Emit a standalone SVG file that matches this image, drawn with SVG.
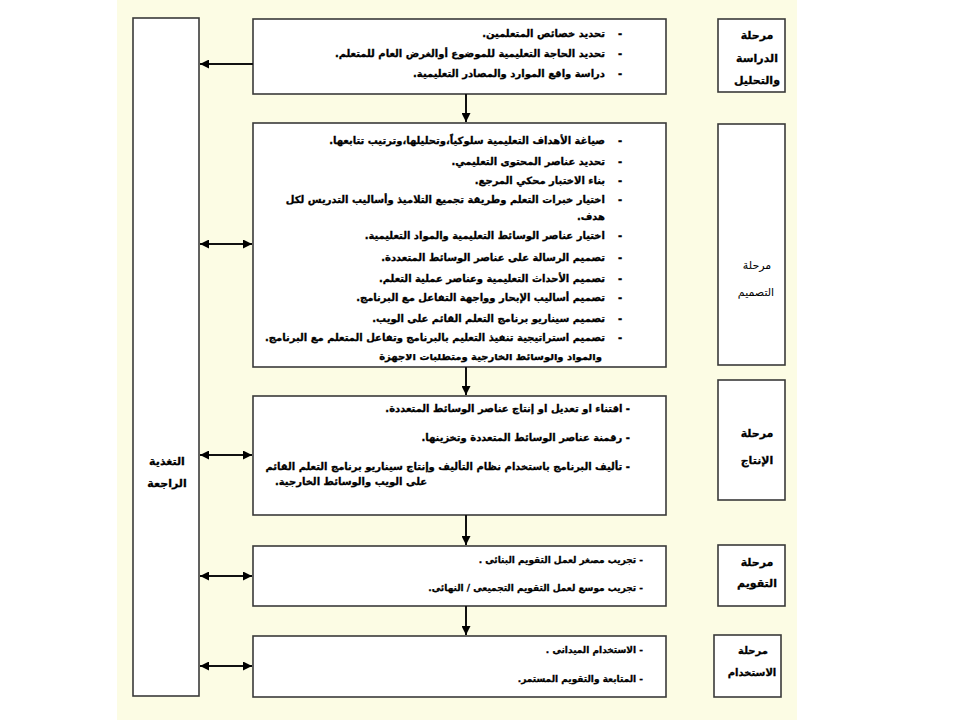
<svg xmlns="http://www.w3.org/2000/svg" width="960" height="720" viewBox="0 0 960 720">
<defs>
<marker id="ah" viewBox="0 0 10 10" refX="10" refY="5" markerWidth="9" markerHeight="9" markerUnits="userSpaceOnUse" orient="auto-start-reverse">
<path d="M0,0 L10,5 L0,10 Z" fill="#000"/>
</marker>
<clipPath id="cut"><rect x="253" y="354" width="413" height="12"/></clipPath>
<style>
.box{fill:#fff;stroke:#3a3a3a;stroke-width:1.6}
.ln{stroke:#111;stroke-width:2;fill:none}
text{font-family:"DejaVu Sans","Noto Sans",sans-serif;font-weight:bold;fill:#000;stroke:#000;stroke-width:0.3}
.t{font-size:10px;direction:rtl;text-anchor:start}
.tl{font-size:10px;direction:rtl;text-anchor:end}
.t9{font-size:9px;direction:rtl;text-anchor:start}
.b{font-size:10px;text-anchor:middle}
.c{font-size:11px;text-anchor:middle}
</style>
</defs>
<rect x="117" y="0" width="680" height="720" fill="#FCFCE4"/>

<g id="feedback">
<rect class="box" x="133" y="18" width="66" height="678"/>
<text class="c" x="167" y="465">التغذية</text>
<text class="c" x="167" y="487">الراجعة</text>
</g>

<g id="analysis">
<rect class="box" x="253" y="19" width="413" height="75"/>
<text class="b" x="620" y="37">-</text>
<text class="b" x="620" y="57">-</text>
<text class="b" x="620" y="77">-</text>
<text class="t" x="605" y="37">تحديد خصائص المتعلمين.</text>
<text class="t" x="605" y="57">تحديد الحاجة التعليمية للموضوع أوالغرض العام للمتعلم.</text>
<text class="t" x="605" y="77">دراسة واقع الموارد والمصادر التعليمية.</text>
</g>

<g id="design">
<rect class="box" x="253" y="123" width="413" height="244"/>
<text class="b" x="620" y="144">-</text>
<text class="b" x="620" y="165">-</text>
<text class="b" x="620" y="184">-</text>
<text class="b" x="620" y="203">-</text>
<text class="b" x="620" y="239">-</text>
<text class="b" x="620" y="261">-</text>
<text class="b" x="620" y="282">-</text>
<text class="b" x="620" y="301">-</text>
<text class="b" x="620" y="322">-</text>
<text class="b" x="620" y="341">-</text>
<text class="t" x="605" y="144">صياغة الأهداف التعليمية سلوكياً،وتحليلها،وترتيب تتابعها.</text>
<text class="t" x="605" y="165">تحديد عناصر المحتوى التعليمي.</text>
<text class="t" x="605" y="184">بناء الاختبار محكي المرجع.</text>
<text class="t" x="605" y="203">اختيار خبرات التعلم وطريقة تجميع التلاميذ وأساليب التدريس لكل</text>
<text class="t" x="605" y="220">هدف.</text>
<text class="t" x="605" y="239">اختيار عناصر الوسائط التعليمية والمواد التعليمية.</text>
<text class="t" x="605" y="261">تصميم الرسالة على عناصر الوسائط المتعددة.</text>
<text class="t" x="605" y="282">تصميم الأحداث التعليمية وعناصر عملية التعلم.</text>
<text class="t" x="605" y="301">تصميم أساليب الإبحار وواجهة التفاعل مع البرنامج.</text>
<text class="t" x="605" y="322">تصميم سيناريو برنامج التعلم القائم على الويب.</text>
<text class="t" x="605" y="341">تصميم استراتيجية تنفيذ التعليم بالبرنامج وتفاعل المتعلم مع البرنامج.</text>
<text class="t" x="602" y="360" clip-path="url(#cut)">والمواد والوسائط الخارجية ومتطلبات الأجهزة</text>
</g>

<g id="production">
<rect class="box" x="253" y="396" width="413" height="119"/>
<text class="t" x="630" y="412">- اقتناء او تعديل او إنتاج عناصر الوسائط المتعددة.</text>
<text class="t" x="630" y="441">- رقمنة عناصر الوسائط المتعددة وتخزينها.</text>
<text class="t" x="630" y="470">- تأليف البرنامج باستخدام نظام التأليف وإنتاج سيناريو برنامج التعلم القائم</text>
<text class="tl" x="275" y="485">على الويب والوسائط الخارجية.</text>
</g>

<g id="evaluation">
<rect class="box" x="253" y="546" width="413" height="60"/>
<text class="t9" x="643" y="563">- تجريب مصغر لعمل التقويم البنائى .</text>
<text class="t9" x="643" y="591">- تجريب موسع لعمل التقويم التجميعى / النهائى.</text>
</g>

<g id="usage">
<rect class="box" x="253" y="636" width="413" height="61"/>
<text class="t9" x="643" y="653">- الاستخدام الميدانى .</text>
<text class="t9" x="643" y="682">- المتابعة والتقويم المستمر.</text>
</g>

<g id="stage-analysis">
<rect class="box" x="718" y="19" width="67" height="73"/>
<text class="c" x="757" y="39">مرحلة</text>
<text class="c" x="757" y="62">الدراسة</text>
<text class="c" x="757" y="84">والتحليل</text>
</g>

<g id="stage-design">
<rect class="box" x="718" y="124" width="67" height="241"/>
<text class="c" x="757" y="269" style="font-weight:normal;stroke-width:0">مرحلة</text>
<text class="c" x="756" y="296" style="font-weight:normal;stroke-width:0">التصميم</text>
</g>

<g id="stage-production">
<rect class="box" x="718" y="380" width="67" height="120"/>
<text class="c" x="757" y="437">مرحلة</text>
<text class="c" x="757" y="464">الإنتاج</text>
</g>

<g id="stage-evaluation">
<rect class="box" x="718" y="545" width="67" height="61"/>
<text class="c" x="757" y="566">مرحلة</text>
<text class="c" x="757" y="587">التقويم</text>
</g>

<g id="stage-usage">
<rect class="box" x="714" y="635" width="67" height="62"/>
<text class="c" x="753" y="654" style="font-size:10px">مرحلة</text>
<text class="c" x="752" y="676" style="font-size:10px">الاستخدام</text>
</g>

<g id="connectors">
<line class="ln" x1="253" y1="64" x2="200" y2="64" marker-end="url(#ah)"/>
<line class="ln" x1="200" y1="244" x2="252" y2="244" marker-start="url(#ah)" marker-end="url(#ah)"/>
<line class="ln" x1="200" y1="455" x2="252" y2="455" marker-start="url(#ah)" marker-end="url(#ah)"/>
<line class="ln" x1="200" y1="576" x2="252" y2="576" marker-start="url(#ah)" marker-end="url(#ah)"/>
<line class="ln" x1="200" y1="666" x2="252" y2="666" marker-start="url(#ah)" marker-end="url(#ah)"/>
<line class="ln" x1="466" y1="94" x2="466" y2="122" marker-end="url(#ah)"/>
<line class="ln" x1="466" y1="367" x2="466" y2="395" marker-end="url(#ah)"/>
<line class="ln" x1="466" y1="515" x2="466" y2="545" marker-end="url(#ah)"/>
<line class="ln" x1="466" y1="606" x2="466" y2="635" marker-end="url(#ah)"/>
</g>
</svg>
